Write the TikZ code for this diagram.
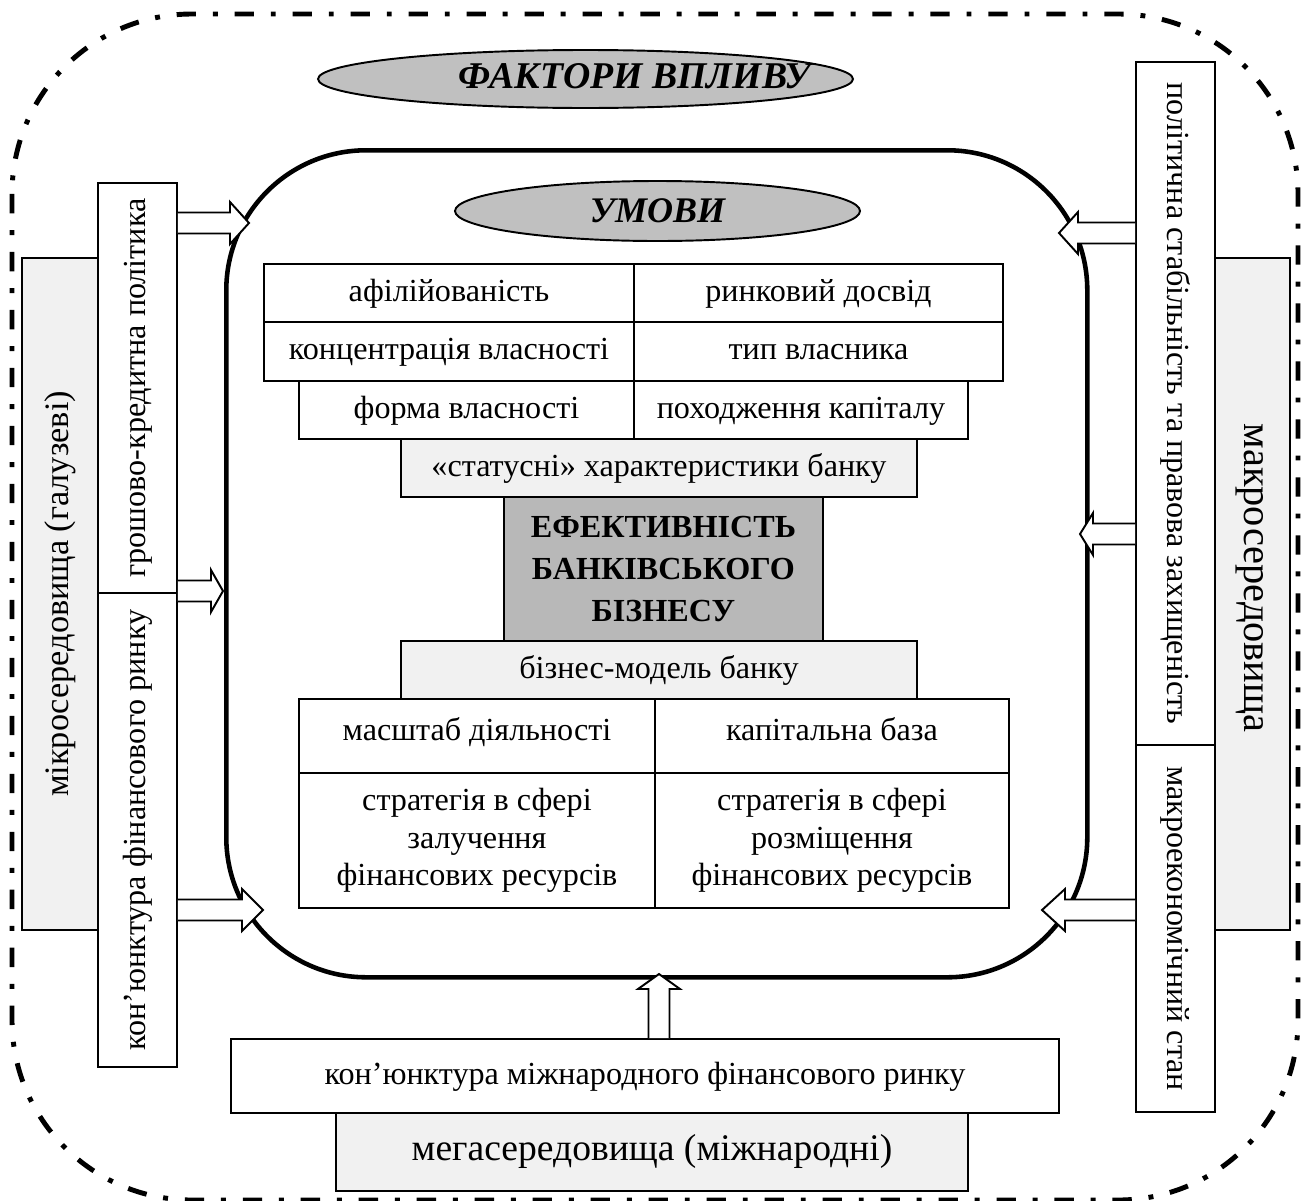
\documentclass[tikz,border=0pt]{standalone}
\usepackage{fontspec}
\setmainfont{Liberation Serif}[BoldFont={Liberation Serif Bold}, ItalicFont={Liberation Serif Italic}, BoldItalicFont={Liberation Serif Bold Italic}]
\usetikzlibrary{calc,shapes.geometric}

\definecolor{lightfill}{HTML}{F1F1F1}
\definecolor{midfill}{HTML}{C0C0C0}
\definecolor{darkfill}{HTML}{B8B8B8}

\newcommand\pxu{0.02cm}
\newcommand\mainsz{\fontsize{18.3}{21.3}\selectfont}
\newcommand\microsz{\fontsize{19.5}{23}\selectfont}
\newcommand\macrosz{\fontsize{23}{27}\selectfont}
\newcommand\megasz{\fontsize{21.4}{25}\selectfont}
\newcommand\titlesz{\fontsize{20.5}{24}\selectfont}
\newcommand\bigtitlesz{\fontsize{21.5}{25}\selectfont}

% hollow block arrow from #1 (base) to #2 (tip), head length #3
\newcommand\blockarrow[3]{%
  \coordinate (ba-hb) at ($(#2)!#3!(#1)$);
  \draw[blockarr]
    ($(#1)!\bashaft!90:(#2)$) -- ($(ba-hb)!\bashaft!90:(#2)$)
    -- ($(ba-hb)!\bawing!90:(#2)$) -- (#2)
    -- ($(ba-hb)!\bawing!-90:(#2)$) -- ($(ba-hb)!\bashaft!-90:(#2)$)
    -- ($(#1)!\bashaft!-90:(#2)$);
}
\newcommand\bashaft{0.21cm}
\newcommand\bawing{0.42cm}

\begin{document}
\begin{tikzpicture}[x=0.02cm,y=-0.02cm,
  box/.style={draw, line width=1.1pt, inner sep=0pt, align=center, font=\mainsz, anchor=north west},
  wbox/.style={box, fill=white},
  lbox/.style={box, fill=lightfill},
  oneline/.style={text height=1.02em, text depth=0.06em},
  topline/.style={text height=0.72em, text depth=0.22em},
  vbox/.style={draw, line width=1.1pt, inner sep=0pt, align=center, font=\mainsz},
  titleell/.style={ellipse, draw, line width=1.1pt, fill=midfill, inner sep=0pt, font=\titlesz\bfseries\itshape},
  frame/.style={draw, line width=2.6pt, rounded corners=2.8cm, inner sep=0pt},
  outer/.style={line width=2.8pt, dash pattern=on 11pt off 9.6pt on 2.8pt off 9.6pt},
  blockarr/.style={draw, fill=white, line width=1.1pt, line join=miter},
]
\useasboundingbox (0,0) rectangle (1310,1200);
\clip (0,0) rectangle (1310,1200);

% outer dash-dot boundary of the influence factors
\draw[outer, rounded corners=3.6cm] (12,14) rectangle (1298,1200);

% title
\node[titleell, minimum width=535*\pxu, minimum height=58*\pxu,
  label={[font=\bigtitlesz\bfseries\itshape, xshift=28pt, yshift=-3pt, text height=0.72em, text depth=0.2em]center:ФАКТОРИ ВПЛИВУ}] (fv) at (585.5,79) {};

% inner frame with conditions
\node[frame, minimum width=861*\pxu, minimum height=827*\pxu, anchor=north west] (frame) at (224,148) {};
\node[titleell, minimum width=405*\pxu, minimum height=60*\pxu] (umovy) at (657.5,211) {УМОВИ};

% status characteristics
\node[wbox, oneline, minimum width=370*\pxu, minimum height=58*\pxu] (c11) at (263,263) {афілійованість};
\node[wbox, oneline, minimum width=369*\pxu, minimum height=58*\pxu] (c12) at (633,263) {ринковий досвід};
\node[wbox, oneline, minimum width=370*\pxu, minimum height=59*\pxu] (c21) at (263,321) {концентрація власності};
\node[wbox, oneline, minimum width=369*\pxu, minimum height=59*\pxu] (c22) at (633,321) {тип власника};
\node[wbox, oneline, minimum width=335*\pxu, minimum height=58*\pxu] (c31) at (298,380) {форма власності};
\node[wbox, oneline, minimum width=334*\pxu, minimum height=58*\pxu] (c32) at (633,380) {походження капіталу};
\node[lbox, oneline, minimum width=516*\pxu, minimum height=58*\pxu] (stat) at (400,438) {«статусні» характеристики банку};

% core
\node[box, fill=darkfill, minimum width=319*\pxu, minimum height=144*\pxu, font={\fontsize{18.3}{24}\selectfont\bfseries}] (core) at (503,496)
  {ЕФЕКТИВНІСТЬ\\БАНКІВСЬКОГО\\БІЗНЕСУ};

% business model
\node[lbox, oneline, minimum width=516*\pxu, minimum height=58*\pxu] (bm) at (400,640) {бізнес-модель банку};
\node[wbox, topline, minimum width=356*\pxu, minimum height=74*\pxu] (m11) at (298,698) {масштаб діяльності};
\node[wbox, topline, minimum width=354*\pxu, minimum height=74*\pxu] (m12) at (654,698) {капітальна база};
\node[wbox, minimum width=356*\pxu, minimum height=135*\pxu] (m21) at (298,772) {стратегія в сфері\\залучення\\фінансових ресурсів};
\node[wbox, minimum width=354*\pxu, minimum height=135*\pxu] (m22) at (654,772) {стратегія в сфері\\розміщення\\фінансових ресурсів};

% left side: micro environment
\node[vbox, oneline, fill=lightfill, rotate=90, minimum width=672*\pxu, minimum height=76*\pxu, font=\microsz] (micro) at (60,594) {мікросередовища (галузеві)};
\node[vbox, oneline, fill=white, rotate=90, minimum width=410*\pxu, minimum height=79*\pxu] (gkp) at (137.5,388) {грошово-кредитна політика};
\node[vbox, oneline, fill=white, rotate=90, minimum width=474*\pxu, minimum height=79*\pxu] (kfr) at (137.5,830) {кон’юнктура фінансового ринку};

% right side: macro environment
\node[vbox, oneline, fill=lightfill, rotate=-90, minimum width=672*\pxu, minimum height=75*\pxu, font=\macrosz] (macro) at (1252.5,594) {макросередовища\hspace*{18pt}};
\node[vbox, oneline, fill=white, rotate=-90, minimum width=683*\pxu, minimum height=79*\pxu] (pol) at (1175.5,403.5) {політична стабільність та правова захищеність};
\node[vbox, oneline, fill=white, rotate=-90, minimum width=367*\pxu, minimum height=79*\pxu] (mes) at (1175.5,928.5) {макроекономічний стан};

% bottom: mega environment
\node[wbox, oneline, minimum width=828*\pxu, minimum height=74*\pxu] (kmr) at (230,1038) {кон’юнктура міжнародного фінансового ринку};
\node[lbox, oneline, minimum width=632*\pxu, minimum height=78*\pxu, font=\megasz] (mega) at (335,1112) {мегасередовища (міжнародні)};

% arrow tips on the inner frame
\coordinate (t1) at (249,223);
\coordinate (t2) at (223,591);
\coordinate (t3) at (263,910);
\coordinate (t4) at (1059,233);
\coordinate (t5) at (1080,534);
\coordinate (t6) at (1042,910);
\coordinate (t7) at (659,974);

\blockarrow{gkp.south |- t1}{t1}{0.38cm}
\blockarrow{gkp.south |- t2}{t2}{0.24cm}
\blockarrow{kfr.south |- t3}{t3}{0.42cm}
\blockarrow{pol.south |- t4}{t4}{0.38cm}
\blockarrow{pol.south |- t5}{t5}{0.26cm}
\blockarrow{mes.south |- t6}{t6}{0.46cm}
\blockarrow{kmr.north -| t7}{t7}{0.30cm}
\end{tikzpicture}
\end{document}
